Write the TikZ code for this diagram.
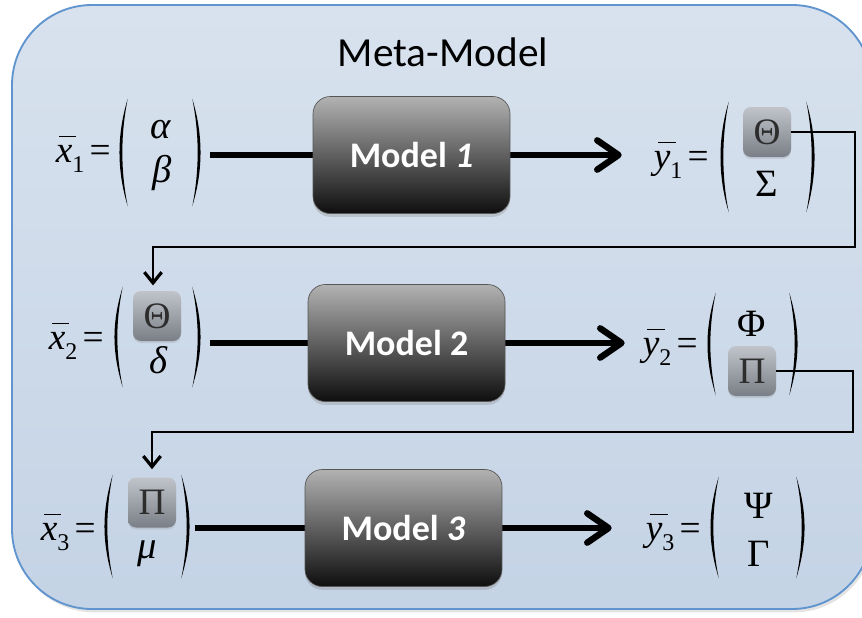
\documentclass[tikz,border=0pt]{standalone}
\usepackage{fontspec}
\setmainfont{Liberation Serif}
\newfontfamily\carlito{Carlito}
\usetikzlibrary{arrows.meta,calc,shadows}
\pgfdeclarelayer{back}
\pgfdeclarelayer{bg}
\pgfsetlayers{back,bg,main}

\definecolor{bgtop}{RGB}{216,226,238}
\definecolor{bgbot}{RGB}{196,211,229}
\definecolor{bgline}{RGB}{96,148,206}
\definecolor{mtop}{RGB}{178,178,178}
\definecolor{mbot}{RGB}{14,14,14}
\definecolor{stop}{RGB}{192,196,202}
\definecolor{sbot}{RGB}{122,127,135}
\definecolor{sink}{RGB}{45,45,45}

% bar-over symbol with subscript, followed by "="
\newcommand\barsym[3]{{\rlap{\hspace{#3}\raisebox{0.66em}{\rule{0.46em}{0.045em}}}\textit{#1}\raisebox{-0.28em}{\fontsize{18}{18}\selectfont #2}}\kern0.14em=}

\newcommand\vparens[1]{%
  \fill ($(#1.north west)+(11,0)$) .. controls ($(#1.north west)+(0,36)$) and ($(#1.south west)+(0,-36)$) .. ($(#1.south west)+(11,0)$)
        .. controls ($(#1.south west)+(3.8,-36)$) and ($(#1.north west)+(3.8,36)$) .. cycle;
  \fill ($(#1.north east)+(-11,0)$) .. controls ($(#1.north east)+(0,36)$) and ($(#1.south east)+(0,-36)$) .. ($(#1.south east)+(-11,0)$)
        .. controls ($(#1.south east)+(-3.8,-36)$) and ($(#1.north east)+(-3.8,36)$) .. cycle;
}

\tikzset{
  outerbox/.style={draw=bgline, line width=1.4pt, top color=bgtop, bottom color=bgbot, rounded corners=60pt,
    drop shadow={opacity=0.22, shadow xshift=1.5pt, shadow yshift=-2.5pt}},
  modelbox/.style={draw={rgb,255:red,85;green,85;blue,85}, line width=0.5pt, rounded corners=13pt,
    top color=mtop, bottom color=mbot, minimum width=147.75pt, minimum height=87.75pt, inner sep=0pt,
    text=white, font=\carlito\bfseries\fontsize{27}{30}\selectfont,
    drop shadow={opacity=0.3, shadow xshift=0pt, shadow yshift=-2.5pt}},
  sbox/.style={rounded corners=6pt, top color=stop, bottom color=sbot, minimum width=36pt, minimum height=37.5pt,
    inner sep=0pt, text=sink, font=\fontsize{28}{30}\selectfont,
    drop shadow={opacity=0.2, shadow xshift=0pt, shadow yshift=-1.5pt}},
  vecarea/.style={inner sep=0pt, draw=none},
  entry/.style={inner sep=0pt, font=\fontsize{29}{32}\selectfont},
  lbl/.style={inner sep=0pt, anchor=base east, font=\fontsize{28}{32}\selectfont},
  mainarrow/.style={line width=4.8pt, -{Straight Barb[length=16pt, width=22pt, line cap=round, line join=round]}},
  fbline/.style={line width=1.2pt, -{Straight Barb[length=8pt, width=13pt, line width=2.4pt]}},
  titletext/.style={inner sep=0pt, font=\carlito\fontsize{31}{36}\selectfont}
}

\begin{document}
\begin{tikzpicture}[x=0.75pt, y=-0.75pt]
\useasboundingbox (0,0) rectangle (862,617);
\begin{pgfonlayer}{back}
\begin{scope}
\clip (0,0) rectangle (862,617);
\path[outerbox] (12,5) rectangle (872,609);
\end{scope}
\end{pgfonlayer}

\node[titletext] (title) at (443,52) {Meta-Model};

% vector areas (parentheses)
\node[vecarea, minimum width=64.5pt, minimum height=80.25pt] (xv1) at (160,152.5) {};
\node[vecarea, minimum width=74.25pt, minimum height=82.5pt] (yv1) at (767.5,157) {};
\node[vecarea, minimum width=68.25pt, minimum height=75pt] (xv2) at (157.5,337) {};
\node[vecarea, minimum width=71.25pt, minimum height=76.5pt] (yv2) at (752.5,344) {};
\node[vecarea, minimum width=67.5pt, minimum height=77.25pt] (xv3) at (147,526.5) {};
\node[vecarea, minimum width=74.25pt, minimum height=75.75pt] (yv3) at (757.5,527.5) {};
\vparens{xv1}\vparens{yv1}\vparens{xv2}\vparens{yv2}\vparens{xv3}\vparens{yv3}

% labels
\node[lbl] (xl1) at (111,162) {\barsym{x}{1}{0.08em}};
\node[lbl] (yl1) at (709,168) {\barsym{y}{1}{0.12em}};
\node[lbl] (xl2) at (104,349) {\barsym{x}{2}{0.08em}};
\node[lbl] (yl2) at (698,355) {\barsym{y}{2}{0.12em}};
\node[lbl] (xl3) at (96,540) {\barsym{x}{3}{0.08em}};
\node[lbl] (yl3) at (701,540) {\barsym{y}{3}{0.12em}};

% entries
\node[entry] (a1) at (161,130) {\textit{α}};
\node[entry] (b1) at (162,173) {\textit{β}};
\node[sbox] (t1) at (767,132) {Θ};
\node[entry] (s1) at (767,184) {Σ};
\node[sbox] (t2) at (157,316) {Θ};
\node[entry] (d2) at (159,360) {\textit{δ}};
\node[entry] (f2) at (752,323.5) {Φ};
\node[sbox] (p1) at (752,371) {Π};
\node[sbox] (p2) at (152,502.5) {Π};
\node[entry] (m3e) at (147,554) {\textit{μ}};
\node[entry] (ps3) at (759,505.5) {Ψ};
\node[entry] (g3) at (759,553.5) {Γ};

% model boxes
\node[modelbox] (m1) at (411.5,155) {Model \textit{1}};
\node[modelbox] (m2) at (406.5,343) {Model 2};
\node[modelbox] (m3) at (403.5,528) {Model \textit{3}};

% main arrows (behind model boxes)
\begin{pgfonlayer}{bg}
\draw[mainarrow] ([xshift=5pt]xv1.east |- m1.west) -- ([xshift=-72pt]yv1.west |- m1.east);
\draw[mainarrow] ([xshift=5pt]xv2.east |- m2.west) -- ([xshift=-60pt]yv2.west |- m2.east);
\draw[mainarrow] ([xshift=2pt]xv3.east |- m3.west) -- ([xshift=-72pt]yv3.west |- m3.east);
\end{pgfonlayer}

% feedback connectors
\coordinate (c1) at (855,247);
\coordinate (c2) at (853,432);
\draw[fbline] (t1.east) -| (c1) -| ([xshift=-3pt,yshift=4pt]t2.north);
\draw[fbline] (p1.east) -| (c2) -| ([yshift=6pt]p2.north);
\end{tikzpicture}
\end{document}
